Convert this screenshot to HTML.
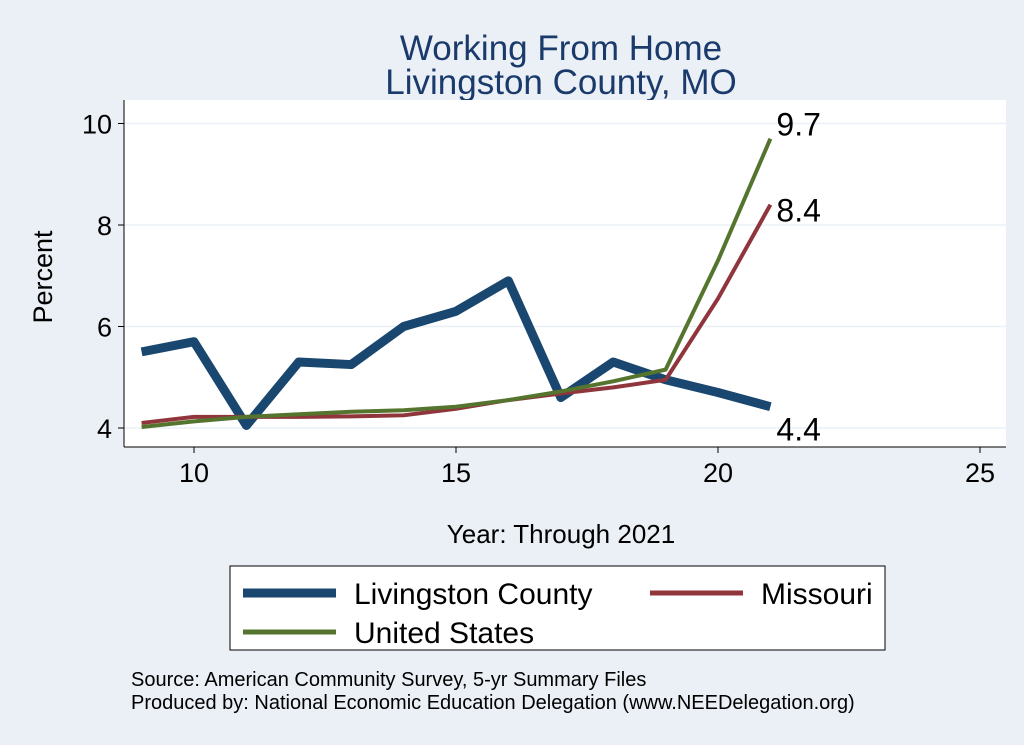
<!DOCTYPE html>
<html><head><meta charset="utf-8"><style>
body{margin:0;background:#eaf0f5;}
svg{display:block;font-family:"Liberation Sans",sans-serif;}
</style></head><body>
<svg id="c" width="1024" height="745">
<rect x="0" y="0" width="1024" height="745" fill="#eaf0f5"/>
<text x="561" y="60" font-size="35" fill="#1a3a6c" text-anchor="middle">Working From Home</text>
<text x="561" y="94" font-size="35" fill="#1a3a6c" text-anchor="middle">Livingston County, MO</text>
<rect x="124" y="100" width="882" height="347" fill="#ffffff"/>
<g id="grid"></g><g id="axes"></g><g id="series"></g>
<text x="52" y="277" font-size="27" text-anchor="middle" transform="rotate(-90 52 277)">Percent</text>
<text x="561" y="543" font-size="26" text-anchor="middle">Year: Through 2021</text>
<g>
<rect x="230" y="566" width="655" height="84" fill="#fff" stroke="#000" stroke-width="1"/>
<line x1="243" y1="593" x2="336" y2="593" stroke="#1a476f" stroke-width="9"/>
<text x="354" y="604" font-size="30">Livingston County</text>
<line x1="650" y1="593" x2="743" y2="593" stroke="#90353b" stroke-width="5"/>
<text x="761" y="604" font-size="30">Missouri</text>
<line x1="243" y1="632" x2="336" y2="632" stroke="#55752f" stroke-width="5"/>
<text x="354" y="643" font-size="30">United States</text>
</g>
<text x="131" y="686" font-size="20">Source: American Community Survey, 5-yr Summary Files</text>
<text x="131" y="709" font-size="20">Produced by: National Economic Education Delegation (www.NEEDelegation.org)</text>
</svg>
<script>
const years=[9,10,11,12,13,14,15,16,17,18,19,20,21];
const livingston=[5.5,5.7,4.05,5.3,5.25,6.0,6.3,6.9,4.6,5.3,4.95,4.7,4.42];
const missouri=[4.1,4.22,4.22,4.22,4.23,4.25,4.38,4.55,4.68,4.8,4.95,6.55,8.4];
const unitedStates=[4.02,4.13,4.22,4.27,4.32,4.35,4.42,4.55,4.72,4.92,5.15,7.3,9.7];
const xTicks=[10,15,20,25];
const yTicks=[4,6,8,10];
const NS="http://www.w3.org/2000/svg";
function X(v){return 194+(v-10)*52.4;}
function Y(v){return 428-(v-4)*50.75;}
function mk(t,a,p){const e=document.createElementNS(NS,t);for(const k in a)e.setAttribute(k,a[k]);p.appendChild(e);return e;}
const grid=document.getElementById('grid'),axes=document.getElementById('axes'),ser=document.getElementById('series');
mk('line',{x1:124,y1:447,x2:1006,y2:447,stroke:'#000'},axes);
mk('line',{x1:124,y1:100,x2:124,y2:447,stroke:'#000'},axes);
yTicks.forEach(t=>{
 const g=mk('line',{x1:124,x2:1006,y1:Y(t),y2:Y(t),stroke:'#eaf0f5','stroke-width':1.5},grid);
 
 
 mk('line',{x1:118,x2:124,y1:Y(t),y2:Y(t),stroke:'#000'},axes);
 const tx=mk('text',{x:112,y:Y(t)+10,'font-size':27,'text-anchor':'end'},axes);tx.textContent=t;
 
 
});
xTicks.forEach(t=>{
 mk('line',{x1:X(t),x2:X(t),y1:447,y2:453,stroke:'#000'},axes);
 const tx=mk('text',{x:X(t),y:482,'font-size':27,'text-anchor':'middle'},axes);tx.textContent=t;
 
 
});
function line(vals,col,w,name,dy){
 const p=mk('polyline',{points:vals.map((v,i)=>X(years[i])+','+Y(v)).join(' '),fill:'none',stroke:col,'stroke-width':w,'stroke-linejoin':'round'},ser);
 
 
 const last=vals[vals.length-1];
 const t=mk('text',{x:X(years[years.length-1])+6,y:Y(last)+dy,'font-size':32},ser);
 t.textContent=last.toFixed(1);
 
 
}
line(livingston,'#1a476f',9,'livingston-line',34);
line(missouri,'#90353b',4,'missouri-line',17);
line(unitedStates,'#55752f',4,'us-line',-3);
</script>
</body></html>
